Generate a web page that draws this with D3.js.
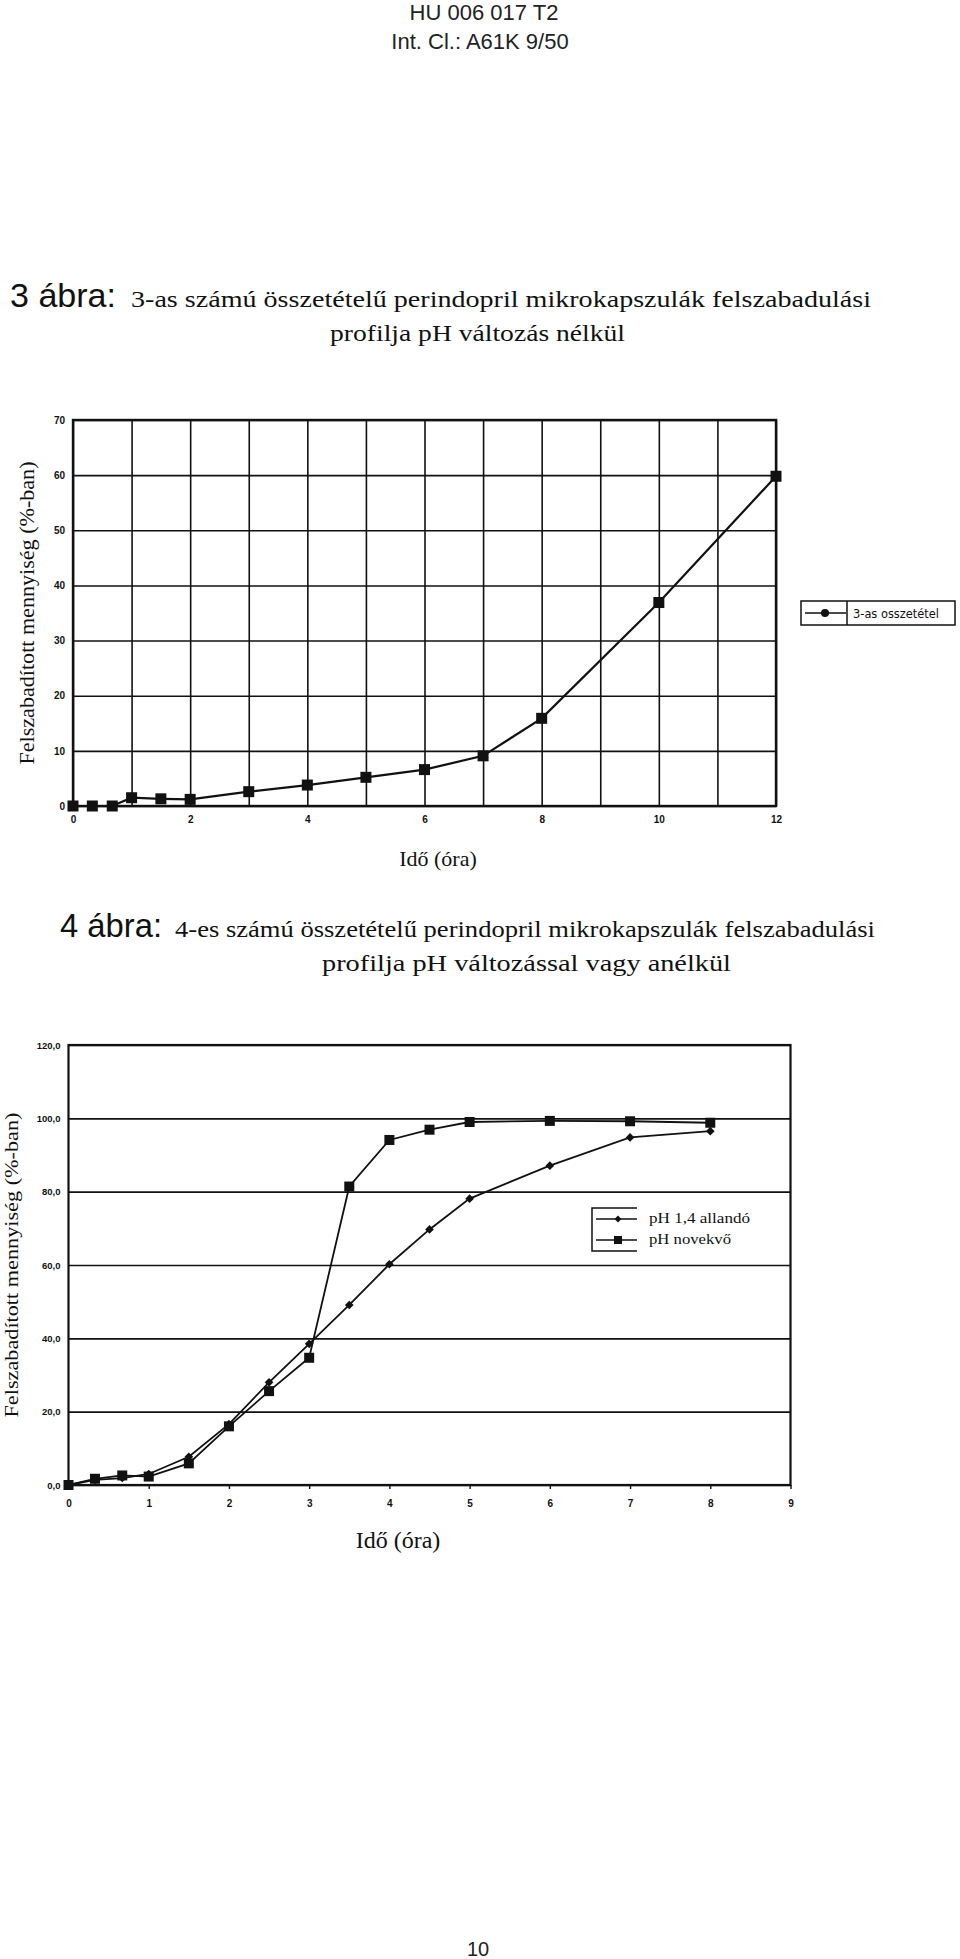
<!DOCTYPE html>
<html><head><meta charset="utf-8">
<script src="https://cdn.jsdelivr.net/npm/d3@7"></script>
<style>
html,body{margin:0;padding:0;background:#fff;}
svg{display:block;}
</style></head>
<body>
<script>
// ---------- data ----------
const fig3Time = [0, 0.33, 0.67, 1, 1.5, 2, 3, 4, 5, 6, 7, 8, 10, 12];
const fig3Release = [0, 0, 0, 1.5, 1.3, 1.2, 2.6, 3.8, 5.2, 6.6, 9.1, 15.9, 36.9, 59.8];
const fig3XTicks = [0, 2, 4, 6, 8, 10, 12];
const fig3YTicks = [0, 10, 20, 30, 40, 50, 60, 70];
const fig3Legend = ["3-as osszetétel"];

const fig4Time = [0, 0.33, 0.67, 1, 1.5, 2, 2.5, 3, 3.5, 4, 4.5, 5, 6, 7, 8];
const fig4Constant = [0, 1.4, 1.9, 3.0, 7.7, 16.6, 28.0, 38.5, 49.1, 60.2, 69.7, 78.1, 87.1, 94.8, 96.5];
const fig4Rising = [0, 1.7, 2.6, 2.3, 5.9, 16.0, 25.6, 34.7, 81.4, 94.1, 96.9, 99.0, 99.3, 99.2, 98.8];
const fig4XTicks = [0, 1, 2, 3, 4, 5, 6, 7, 8, 9];
const fig4YTicks = [0, 20, 40, 60, 80, 100, 120];
const fig4Legend = ["pH 1,4 allandó", "pH novekvő"];

const headerLines = ["HU 006 017 T2", "Int. Cl.: A61K 9/50"];
const yTitle = "Felszabadított mennyiség (%-ban)";
const xTitle = "Idő (óra)";

// ---------- page ----------
const W = 960, H = 1959;
const SANS = "'Liberation Sans', Arial, sans-serif";
const SERIF = "'Liberation Serif', 'Times New Roman', serif";
const NARROW = "'Liberation Sans Narrow', 'DejaVu Sans Condensed', 'Liberation Sans', sans-serif";
const svg = d3.select("body").append("svg").attr("width", W).attr("height", H);
svg.append("rect").attr("width", W).attr("height", H).attr("fill", "#fff");

// header
svg.append("text").attr("x", 484).attr("y", 20).attr("text-anchor", "middle")
  .attr("font-family", SANS).attr("font-size", 22).attr("fill", "#222").text(headerLines[0]);
svg.append("text").attr("x", 480).attr("y", 49).attr("text-anchor", "middle")
  .attr("font-family", SANS).attr("font-size", 22).attr("fill", "#222").text(headerLines[1]);

function title(x0, y0, label, lenLabel, x1, len1, line1, x2, len2, line2) {
  svg.append("text").attr("x", x0).attr("y", y0).attr("font-family", SANS)
    .attr("font-size", 33).attr("fill", "#111")
    .attr("textLength", lenLabel).attr("lengthAdjust", "spacingAndGlyphs").text(label);
  svg.append("text").attr("x", x1).attr("y", y0).attr("font-family", SERIF)
    .attr("font-size", 23).attr("fill", "#111")
    .attr("textLength", len1).attr("lengthAdjust", "spacingAndGlyphs").text(line1);
  svg.append("text").attr("x", x2).attr("y", y0 + 34).attr("font-family", SERIF)
    .attr("font-size", 23).attr("fill", "#111")
    .attr("textLength", len2).attr("lengthAdjust", "spacingAndGlyphs").text(line2);
}
title(10, 307, "3 ábra:", 106, 131, 740,
  "3-as számú összetételű perindopril mikrokapszulák felszabadulási", 330, 295,
  "profilja pH változás nélkül");
title(60, 937, "4 ábra:", 102, 175, 700,
  "4-es számú összetételű perindopril mikrokapszulák felszabadulási", 322, 409,
  "profilja pH változással vagy anélkül");

// page number
svg.append("text").attr("x", 478).attr("y", 1956).attr("text-anchor", "middle")
  .attr("font-family", SANS).attr("font-size", 20).attr("fill", "#222").text("10");

// ---------- Figure 3 ----------
(function () {
  const L = 73, R = 776, T = 420, B = 806;
  const x = d3.scaleLinear().domain([0, 12]).range([L, R]);
  const y = d3.scaleLinear().domain([0, 70]).range([B, T]);
  const g = svg.append("g");

  g.append("g").attr("transform", `translate(0,${B})`)
    .call(d3.axisBottom(x).tickValues(d3.range(0, 13)).tickSize(-(B - T)).tickFormat(""))
    .call(s => s.select(".domain").remove())
    .call(s => s.selectAll("line").attr("stroke", "#111").attr("stroke-width", 1.6));
  g.append("g").attr("transform", `translate(${L},0)`)
    .call(d3.axisLeft(y).tickValues(fig3YTicks).tickSize(-(R - L)).tickFormat(""))
    .call(s => s.select(".domain").remove())
    .call(s => s.selectAll("line").attr("stroke", "#111").attr("stroke-width", 1.6));
  g.append("rect").attr("x", L).attr("y", T).attr("width", R - L).attr("height", B - T)
    .attr("fill", "none").attr("stroke", "#111").attr("stroke-width", 2.4);

  g.append("g").attr("transform", `translate(${L - 8},0)`)
    .call(d3.axisLeft(y).tickValues(fig3YTicks).tickSize(0).tickPadding(0))
    .call(s => s.select(".domain").remove())
    .call(s => s.selectAll("text").attr("font-family", SANS).attr("font-weight", "bold")
      .attr("font-size", 10).attr("fill", "#111"));
  g.append("g").attr("transform", `translate(0,${B + 10})`)
    .call(d3.axisBottom(x).tickValues(fig3XTicks).tickSize(0).tickPadding(0))
    .call(s => s.select(".domain").remove())
    .call(s => s.selectAll("text").attr("font-family", SANS).attr("font-weight", "bold")
      .attr("font-size", 10).attr("fill", "#111"));

  const pts = fig3Time.map((t, i) => [t, fig3Release[i]]);
  g.append("path").datum(pts)
    .attr("d", d3.line().x(d => x(d[0])).y(d => y(d[1])))
    .attr("fill", "none").attr("stroke", "#111").attr("stroke-width", 2.2);
  g.selectAll("rect.m").data(pts).enter().append("rect").attr("class", "m")
    .attr("x", d => x(d[0]) - 5.5).attr("y", d => y(d[1]) - 5.5)
    .attr("width", 11).attr("height", 11).attr("fill", "#111");

  svg.append("text").attr("transform", `translate(34,${(T + B) / 2}) rotate(-90)`)
    .attr("text-anchor", "middle").attr("font-family", SERIF).attr("font-size", 20)
    .attr("fill", "#111").attr("textLength", 303).attr("lengthAdjust", "spacingAndGlyphs").text(yTitle);
  svg.append("text").attr("x", 438).attr("y", 866).attr("text-anchor", "middle")
    .attr("font-family", SERIF).attr("font-size", 22).attr("fill", "#111").text(xTitle);

  const lg = svg.append("g");
  lg.append("rect").attr("x", 801).attr("y", 601).attr("width", 154).attr("height", 24)
    .attr("fill", "#fff").attr("stroke", "#111").attr("stroke-width", 1.5);
  lg.append("line").attr("x1", 847).attr("x2", 847).attr("y1", 601).attr("y2", 625)
    .attr("stroke", "#111").attr("stroke-width", 1.5);
  lg.append("line").attr("x1", 805).attr("x2", 846).attr("y1", 613).attr("y2", 613)
    .attr("stroke", "#111").attr("stroke-width", 1.5);
  lg.append("circle").attr("cx", 825).attr("cy", 613).attr("r", 4).attr("fill", "#111");
  lg.append("text").attr("x", 853).attr("y", 618).attr("font-family", NARROW)
    .attr("font-size", 13).attr("fill", "#111")
    .attr("textLength", 86).attr("lengthAdjust", "spacingAndGlyphs").text(fig3Legend[0]);
})();

// ---------- Figure 4 ----------
(function () {
  const L = 68.5, R = 790.5, T = 1045, B = 1485;
  const x = d3.scaleLinear().domain([0, 9]).range([L, R]);
  const y = d3.scaleLinear().domain([0, 120]).range([B, T]);
  const g = svg.append("g");

  g.append("g").attr("transform", `translate(${L},0)`)
    .call(d3.axisLeft(y).tickValues(fig4YTicks).tickSize(-(R - L)).tickFormat(""))
    .call(s => s.select(".domain").remove())
    .call(s => s.selectAll("line").attr("stroke", "#111").attr("stroke-width", 1.6));
  g.append("rect").attr("x", L).attr("y", T).attr("width", R - L).attr("height", B - T)
    .attr("fill", "none").attr("stroke", "#111").attr("stroke-width", 2.2);
  g.append("g").attr("transform", `translate(0,${B})`)
    .call(d3.axisBottom(x).tickValues(fig4XTicks).tickSize(4).tickFormat(""))
    .call(s => s.select(".domain").remove())
    .call(s => s.selectAll("line").attr("stroke", "#111").attr("stroke-width", 1.4));

  const fmt = v => d3.format(".1f")(v).replace(".", ",");
  g.append("g").attr("transform", `translate(${L - 8},0)`)
    .call(d3.axisLeft(y).tickValues(fig4YTicks).tickSize(0).tickPadding(0).tickFormat(fmt))
    .call(s => s.select(".domain").remove())
    .call(s => s.selectAll("text").attr("font-family", SANS).attr("font-weight", "bold")
      .attr("font-size", 9.5).attr("fill", "#111"));
  g.append("g").attr("transform", `translate(0,${B + 15})`)
    .call(d3.axisBottom(x).tickValues(fig4XTicks).tickSize(0).tickPadding(0))
    .call(s => s.select(".domain").remove())
    .call(s => s.selectAll("text").attr("font-family", SANS).attr("font-weight", "bold")
      .attr("font-size", 10).attr("fill", "#111"));

  const line = d3.line().x(d => x(d[0])).y(d => y(d[1]));
  const ptsC = fig4Time.map((t, i) => [t, fig4Constant[i]]);
  const ptsR = fig4Time.map((t, i) => [t, fig4Rising[i]]);
  g.append("path").datum(ptsC).attr("d", line).attr("fill", "none")
    .attr("stroke", "#111").attr("stroke-width", 1.8);
  g.append("path").datum(ptsR).attr("d", line).attr("fill", "none")
    .attr("stroke", "#111").attr("stroke-width", 1.8);
  const diamond = d3.symbol().type(d3.symbolDiamond2).size(48);
  g.selectAll("path.dm").data(ptsC).enter().append("path").attr("class", "dm")
    .attr("transform", d => `translate(${x(d[0])},${y(d[1])})`)
    .attr("d", diamond).attr("fill", "#111");
  g.selectAll("rect.sq").data(ptsR).enter().append("rect").attr("class", "sq")
    .attr("x", d => x(d[0]) - 5).attr("y", d => y(d[1]) - 5)
    .attr("width", 10).attr("height", 10).attr("fill", "#111");

  svg.append("text").attr("transform", `translate(18,${(T + B) / 2}) rotate(-90)`)
    .attr("text-anchor", "middle").attr("font-family", SERIF).attr("font-size", 19)
    .attr("fill", "#111").attr("textLength", 305).attr("lengthAdjust", "spacingAndGlyphs").text(yTitle);
  svg.append("text").attr("x", 398).attr("y", 1548).attr("text-anchor", "middle")
    .attr("font-family", SERIF).attr("font-size", 24).attr("fill", "#111").text(xTitle);

  const lg = svg.append("g");
  lg.append("path").attr("d", "M637,1208 H592 V1251 H637").attr("fill", "none")
    .attr("stroke", "#111").attr("stroke-width", 1.5);
  const rows = [1219, 1240];
  lg.selectAll("line.l").data(rows).enter().append("line")
    .attr("x1", 596).attr("x2", 637).attr("y1", d => d).attr("y2", d => d)
    .attr("stroke", "#111").attr("stroke-width", 1.5);
  lg.append("path").attr("transform", `translate(618,${rows[0]})`)
    .attr("d", d3.symbol().type(d3.symbolDiamond2).size(30)).attr("fill", "#111");
  lg.append("rect").attr("x", 614).attr("y", rows[1] - 4).attr("width", 8).attr("height", 8).attr("fill", "#111");
  lg.selectAll("text.t").data(fig4Legend).enter().append("text").attr("class", "t")
    .attr("x", 649).attr("y", (d, i) => rows[i] + 4)
    .attr("font-family", SERIF).attr("font-size", 14).attr("fill", "#111")
    .attr("textLength", (d, i) => i === 0 ? 101 : 82).attr("lengthAdjust", "spacingAndGlyphs")
    .text(d => d);
})();
</script>
</body></html>
